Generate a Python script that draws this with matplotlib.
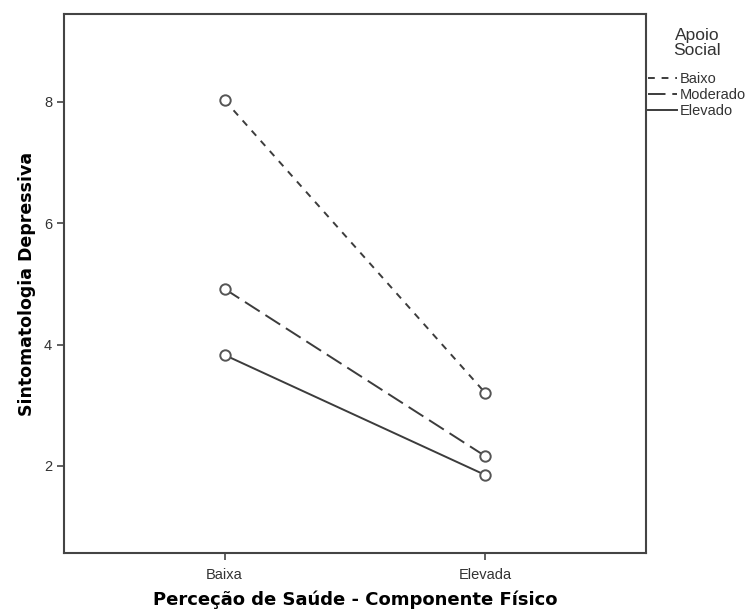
import matplotlib
matplotlib.use('Agg')
import matplotlib.pyplot as plt

plt.rcParams['font.family'] = ['Liberation Sans', 'DejaVu Sans']

categories = ['Baixa', 'Elevada']
groups = ['Baixo', 'Moderado', 'Elevado']
baixo = [8.03, 3.20]
moderado = [4.92, 2.16]
elevado = [3.83, 1.85]
yticks = [2, 4, 6, 8]

series = [baixo, moderado, elevado]
styles = [(0, (3.5, 3.5)), (0, (9, 3.5)), '-']
col = '#3c3c3c'

fig = plt.figure(figsize=(7.47, 6.14), dpi=100)
ax = fig.add_axes([64/747, 61/614, 582/747, 539/614])

x = list(range(len(categories)))
for vals, name, ls in zip(series, groups, styles):
    ax.plot(x, vals, color=col, lw=1.4, linestyle=ls, label=name)
    ax.plot(x, vals, linestyle='none', marker='o', markersize=7.5,
            markerfacecolor='white', markeredgecolor='#555555', mew=1.4)

ax.set_xlim(-0.615, 1.615)
ax.set_ylim(0.566, 9.45)
ax.set_xticks(x)
ax.set_xticklabels(categories)
ax.set_yticks(yticks)
ax.tick_params(direction='out', length=5, width=1.2, colors='#444444',
               labelsize=10.5, labelcolor='#333333')
ax.tick_params(axis='x', pad=6)
for s in ax.spines.values():
    s.set_linewidth(1.5)
    s.set_color('#444444')

ax.set_xlabel('Perceção de Saúde - Componente Físico', fontsize=13,
              fontweight='bold', family='DejaVu Sans', labelpad=6)
ax.set_ylabel('Sintomatologia Depressiva', fontsize=12.5, fontweight='bold',
              family='DejaVu Sans', labelpad=6)

# legend title drawn separately so the gap below it can match
fig.text(697/747, 1 - 43/614, 'Apoio\nSocial', ha='center', va='center',
         fontsize=12.5, linespacing=0.95, color='#333333')
leg = ax.legend(loc='upper left', bbox_to_anchor=(648/747, 1 - 72/614),
                bbox_transform=fig.transFigure, frameon=False,
                fontsize=10.5, handlelength=2.0, handletextpad=0.15,
                borderpad=0, borderaxespad=0, labelspacing=0.15)
for t in leg.get_texts():
    t.set_color('#333333')

fig.savefig('out.png', dpi=100)
